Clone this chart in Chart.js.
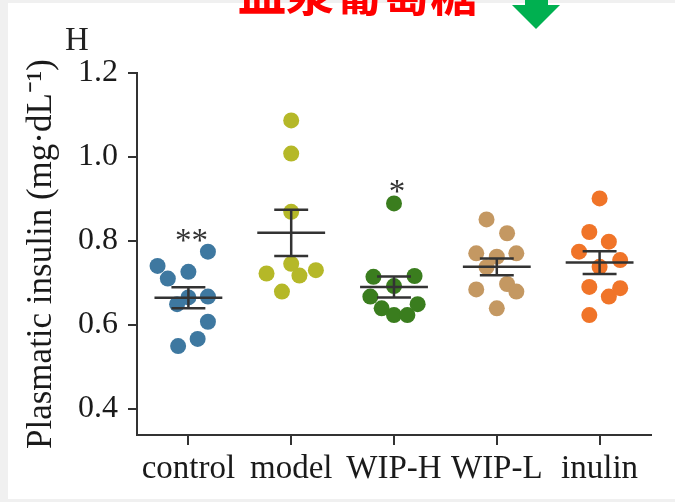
<!DOCTYPE html>
<html>
<head>
<meta charset="utf-8">
<script src="https://cdn.jsdelivr.net/npm/chart.js@4.4.0/dist/chart.umd.min.js"></script>
<style>
  body { margin:0; width:675px; height:502px; background:#f0f0f0; position:relative; overflow:hidden; }
  #panel { position:absolute; left:8px; top:3px; width:667px; height:496px; background:#fff; }
  #head { position:absolute; left:238px; top:-34px; font:bold 48px "Noto Sans CJK SC"; line-height:1; color:#ff0000; white-space:nowrap; }
  #tag { position:absolute; left:65px; top:23px; font:33px "Liberation Serif"; line-height:1; color:#222; }
  #arrow { position:absolute; left:511px; top:0; }
</style>
</head>
<body>
<div id="panel"><canvas id="c" width="667" height="496"></canvas></div>
<div id="tag">H</div>
<div id="head">血浆葡萄糖</div>
<svg id="arrow" width="50" height="30"><polygon points="14,0 37,0 37,5 49,5 25,29 1,5 14,5" fill="#00b050"/></svg>
<script>
// groups and values
var categories = ['control', 'model', 'WIP-H', 'WIP-L', 'inulin'];
var control = [0.774, 0.740, 0.710, 0.726, 0.665, 0.649, 0.667, 0.607, 0.566, 0.549];
var model   = [1.087, 1.008, 0.869, 0.745, 0.717, 0.730, 0.722, 0.679];
var wipH    = [0.889, 0.714, 0.716, 0.692, 0.667, 0.639, 0.623, 0.623, 0.649];
var wipL    = [0.851, 0.818, 0.770, 0.762, 0.770, 0.737, 0.697, 0.679, 0.684, 0.639];
var inulin  = [0.901, 0.821, 0.798, 0.774, 0.754, 0.738, 0.690, 0.687, 0.667, 0.623];
// horizontal scatter of each dot within its group (in category units)
var jitter = [
  [0.19, -0.30, -0.20, 0, 0, -0.11, 0.19, 0.19, 0.09, -0.10],
  [0, 0, 0, 0, 0.08, 0.24, -0.24, -0.09],
  [0, -0.20, 0.20, 0, -0.23, -0.12, 0, 0.13, 0.23],
  [-0.10, 0.10, -0.20, 0, 0.19, -0.10, 0.10, 0.19, -0.20, 0],
  [0, -0.10, 0.09, -0.20, 0.20, 0, -0.10, 0.20, 0.09, -0.10]
];
var means = [0.664, 0.819, 0.690, 0.738, 0.748];
var sems  = [0.025, 0.055, 0.025, 0.020, 0.027];
var marks = ['**', '', '*', '', ''];
var yTicks = [0.4, 0.6, 0.8, 1.0, 1.2];
var colors = ['#3e78a0', '#b5b828', '#3a7d1e', '#c49862', '#f07428'];

var groups = [control, model, wipH, wipL, inulin];
var MEAN_W = 0.33, CAP_W = 0.165;

var datasets = groups.map(function(vals, i){
  return {
    data: vals.map(function(v, j){ return {x: i + jitter[i][j], y: v}; }),
    backgroundColor: colors[i],
    borderWidth: 0,
    pointRadius: 8,
    pointHoverRadius: 8,
    order: 2
  };
});

// mean and SEM bars as one broken line
var bars = [];
means.forEach(function(m, i){
  var s = sems[i];
  bars.push({x: i - MEAN_W, y: m}, {x: i + MEAN_W, y: m}, {x: i, y: null});
  bars.push({x: i, y: m - s}, {x: i, y: m + s}, {x: i, y: null});
  bars.push({x: i - CAP_W, y: m + s}, {x: i + CAP_W, y: m + s}, {x: i, y: null});
  bars.push({x: i - CAP_W, y: m - s}, {x: i + CAP_W, y: m - s}, {x: i, y: null});
});
datasets.push({
  data: bars,
  showLine: true,
  spanGaps: false,
  borderColor: '#333',
  borderWidth: 2.5,
  pointRadius: 0,
  order: 1
});

var starPlugin = {
  id: 'stars',
  afterDatasetsDraw: function(chart){
    var ctx = chart.ctx, xs = chart.scales.x, ys = chart.scales.y;
    ctx.save();
    ctx.font = '33px "Liberation Serif"';
    ctx.fillStyle = '#333';
    ctx.textAlign = 'center';
    ctx.textBaseline = 'alphabetic';
    marks.forEach(function(t, i){
      if(!t) return;
      var top = Math.max.apply(null, groups[i]);
      ctx.fillText(t, xs.getPixelForValue(i) + 3, ys.getPixelForValue(top) - 1);
    });
    ctx.restore();
  }
};

new Chart(document.getElementById('c'), {
  type: 'scatter',
  data: { datasets: datasets },
  options: {
    responsive: false,
    animation: false,
    layout: { padding: { top: 70, right: 24, bottom: 0, left: 0 } },
    plugins: { legend: { display: false }, tooltip: { enabled: false } },
    scales: {
      x: {
        type: 'linear', min: -0.5, max: 4.5,
        afterBuildTicks: function(s){ s.ticks = categories.map(function(c, i){ return {value: i}; }); },
        afterFit: function(s){ s.height = 64; },
        ticks: {
          callback: function(v){ return categories[v]; },
          font: { family: 'Liberation Serif', size: 33 },
          color: '#1a1a1a', padding: 5, maxRotation: 0, autoSkip: false
        },
        grid: { drawOnChartArea: false, color: '#333', lineWidth: 2, tickLength: 10 },
        border: { color: '#333', width: 2 }
      },
      y: {
        min: 0.337, max: 1.2,
        afterBuildTicks: function(s){ s.ticks = yTicks.map(function(v){ return {value: v}; }); },
        afterFit: function(s){ s.width = 129; },
        ticks: {
          callback: function(v){ return v.toFixed(1); },
          font: { family: 'Liberation Serif', size: 32 },
          color: '#1a1a1a', padding: 10
        },
        grid: { drawOnChartArea: false, color: '#333', lineWidth: 2, tickLength: 9 },
        border: { color: '#333', width: 2 },
        title: {
          display: true,
          text: 'Plasmatic insulin (mg·dL⁻¹)',
          font: { family: 'Liberation Serif', size: 35 },
          color: '#1a1a1a',
          padding: { top: 13, bottom: 0 }
        }
      }
    }
  },
  plugins: [starPlugin]
});
</script>
</body>
</html>
